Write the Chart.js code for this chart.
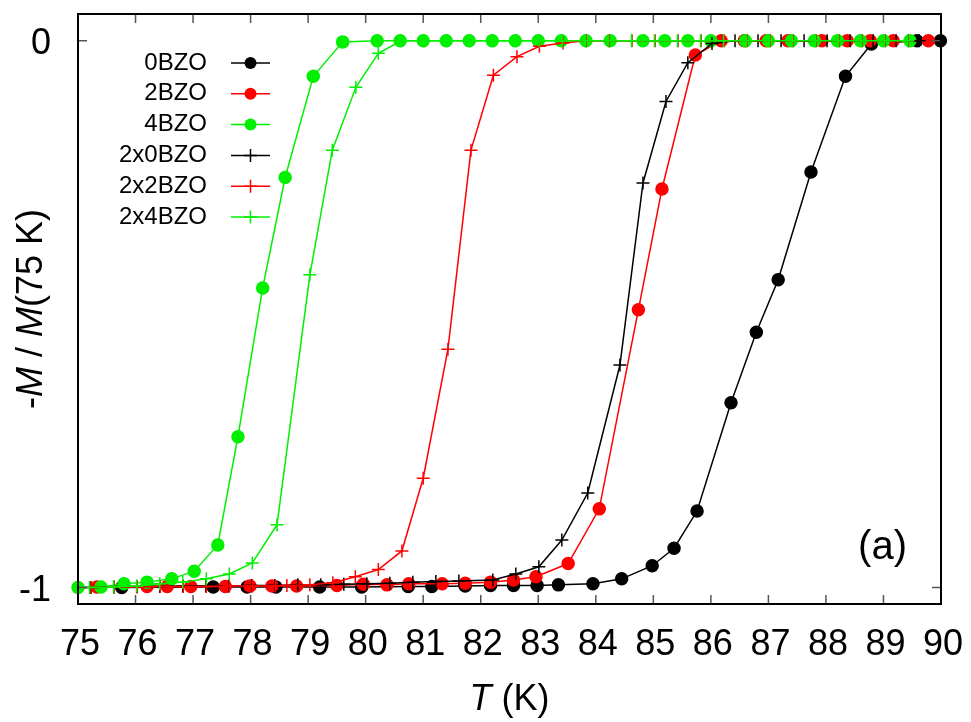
<!DOCTYPE html>
<html>
<head>
<meta charset="utf-8">
<script src="https://cdn.jsdelivr.net/npm/chart.js@4/dist/chart.umd.min.js"></script>
<style>
  html, body { margin: 0; padding: 0; background: #fff; }
</style>
</head>
<body>
<canvas id="myChart" width="971" height="722"></canvas>
<script>
// axis ticks
const xTicks = [75, 76, 77, 78, 79, 80, 81, 82, 83, 84, 85, 86, 87, 88, 89, 90];
const yTicks = [-1, 0];

const seriesNames = ['0BZO', '2BZO', '4BZO', '2x0BZO', '2x2BZO', '2x4BZO'];
const seriesColors = ['#000000', '#ff0000', '#00f000', '#000000', '#ff0000', '#00f000'];
const seriesMarks = ['circle', 'circle', 'circle', 'cross', 'cross', 'cross'];

// temperature (K) and -M/M(75 K) for each sample
const t0BZO = [75.76, 77.35, 77.94, 78.44, 79.20, 79.93, 80.74, 81.15, 81.73, 82.17, 82.57, 82.98, 83.35, 83.95, 84.45, 84.98, 85.36, 85.76, 86.35, 86.79, 87.17, 87.74, 88.34, 88.79, 89.58, 89.99];
const m0BZO = [-1.000, -0.999, -0.999, -0.999, -0.999, -0.999, -0.998, -0.998, -0.997, -0.996, -0.996, -0.996, -0.995, -0.993, -0.984, -0.960, -0.928, -0.860, -0.662, -0.533, -0.437, -0.240, -0.065, -0.006, 0, 0];

const t2BZO = [75.33, 76.20, 76.55, 76.96, 77.56, 77.99, 78.37, 78.80, 79.50, 79.96, 80.37, 80.75, 81.33, 81.73, 82.17, 82.57, 82.96, 83.52, 84.06, 84.74, 85.15, 85.73, 86.18, 86.58, 86.96, 87.34, 87.93, 88.37, 88.77, 89.17, 89.78];
const m2BZO = [-0.999, -0.998, -0.998, -0.998, -0.998, -0.997, -0.997, -0.997, -0.996, -0.994, -0.995, -0.993, -0.993, -0.992, -0.990, -0.986, -0.980, -0.956, -0.856, -0.492, -0.271, -0.026, 0, 0, 0, 0, 0, 0, 0, 0, 0];

const t4BZO = [75.00, 75.40, 75.80, 76.20, 76.63, 77.02, 77.43, 77.78, 78.21, 78.60, 79.09, 79.60, 80.20, 80.60, 81.00, 81.40, 81.80, 82.20, 82.60, 83.00, 83.40, 83.83, 84.25, 84.82, 85.20, 85.60, 86.00, 86.60, 87.00, 87.40, 87.80, 88.20, 88.60, 89.00, 89.46];
const m4BZO = [-1.000, -0.999, -0.993, -0.990, -0.984, -0.970, -0.922, -0.724, -0.452, -0.250, -0.065, -0.002, 0, 0, 0, 0, 0, 0, 0, 0, 0, 0, 0, 0, 0, 0, 0, 0, 0, 0, 0, 0, 0, 0, 0];

const t2x0BZO = [75.22, 75.62, 76.02, 76.42, 76.82, 77.22, 77.62, 78.02, 78.42, 78.82, 79.22, 79.62, 80.02, 80.42, 80.82, 81.22, 81.62, 82.21, 82.61, 83.01, 83.41, 83.86, 84.42, 84.82, 85.22, 85.60, 86.02, 86.42, 86.82, 87.22, 87.62, 88.02, 88.42, 88.82, 89.22, 89.62];
const m2x0BZO = [-1.000, -0.999, -0.998, -0.998, -0.997, -0.997, -0.997, -0.996, -0.996, -0.995, -0.995, -0.994, -0.993, -0.992, -0.990, -0.989, -0.988, -0.986, -0.975, -0.962, -0.913, -0.827, -0.593, -0.260, -0.111, -0.040, -0.005, 0, 0, 0, 0, 0, 0, 0, 0, 0];

const t2x2BZO = [75.23, 75.63, 76.03, 76.43, 76.83, 77.23, 77.63, 78.03, 78.43, 78.63, 79.03, 79.43, 79.82, 80.22, 80.63, 81.00, 81.43, 81.83, 82.22, 82.63, 83.02, 83.43, 83.83, 84.23, 84.63, 85.03, 85.43, 85.83, 86.23, 86.63, 87.03, 87.43, 87.83, 88.23, 88.63, 89.03, 89.43];
const m2x2BZO = [-1.000, -0.999, -0.999, -0.998, -0.998, -0.998, -0.997, -0.997, -0.997, -0.996, -0.995, -0.991, -0.980, -0.967, -0.933, -0.800, -0.564, -0.200, -0.063, -0.029, -0.010, -0.004, 0, 0, 0, 0, 0, 0, 0, 0, 0, 0, 0, 0, 0, 0, 0];

const t2x4BZO = [75.20, 75.62, 76.02, 76.42, 76.82, 77.23, 77.63, 78.03, 78.46, 79.03, 79.42, 79.83, 80.22, 80.62, 81.02, 81.42, 81.82, 82.22, 82.62, 83.02, 83.42, 83.82, 84.22, 84.62, 85.02, 85.42, 85.82, 86.22, 86.62, 87.02, 87.42, 87.82, 88.22, 88.62, 89.02, 89.42];
const m2x4BZO = [-1.000, -0.999, -0.997, -0.993, -0.990, -0.984, -0.975, -0.955, -0.885, -0.428, -0.200, -0.085, -0.023, 0, 0, 0, 0, 0, 0, 0, 0, 0, 0, 0, 0, 0, 0, 0, 0, 0, 0, 0, 0, 0, 0, 0];

const temps = [t0BZO, t2BZO, t4BZO, t2x0BZO, t2x2BZO, t2x4BZO];
const mags = [m0BZO, m2BZO, m4BZO, m2x0BZO, m2x2BZO, m2x4BZO];

const FONT = '"Liberation Sans", Arial, Helvetica, sans-serif';

const datasets = seriesNames.map((name, i) => ({
  label: name,
  data: temps[i].map((t, k) => ({ x: t, y: mags[i][k] })),
  showLine: true,
  borderColor: seriesColors[i],
  backgroundColor: seriesColors[i],
  borderWidth: 1.5,
  pointStyle: seriesMarks[i],
  pointRadius: seriesMarks[i] == 'circle' ? 6 : 6.5,
  pointBorderWidth: 1.5,
  pointHoverRadius: 6,
  clip: false,
  order: seriesNames.length - i   // later series drawn on top
}));

// text with italic pieces, centred on (x, y)
function drawRich(ctx, parts, x, y, size) {
  let total = 0;
  parts.forEach(p => {
    ctx.font = (p[1] ? 'italic ' : '') + size + 'px ' + FONT;
    total += ctx.measureText(p[0]).width;
  });
  let cx = x - total / 2;
  ctx.textAlign = 'left';
  ctx.textBaseline = 'middle';
  parts.forEach(p => {
    ctx.font = (p[1] ? 'italic ' : '') + size + 'px ' + FONT;
    ctx.fillText(p[0], cx, y);
    cx += ctx.measureText(p[0]).width;
  });
}

function drawMark(ctx, style, x, y, color) {
  ctx.strokeStyle = color;
  ctx.fillStyle = color;
  ctx.lineWidth = 1.5;
  if (style == 'circle') {
    ctx.beginPath();
    ctx.arc(x, y, 6, 0, Math.PI * 2);
    ctx.fill();
  } else {
    ctx.beginPath();
    ctx.moveTo(x - 6.5, y); ctx.lineTo(x + 6.5, y);
    ctx.moveTo(x, y - 6.5); ctx.lineTo(x, y + 6.5);
    ctx.stroke();
  }
}

const framePlugin = {
  id: 'frame',
  afterDraw(chart) {
    const ctx = chart.ctx;
    const a = chart.chartArea;
    const xs = chart.scales.x, ys = chart.scales.y;
    ctx.save();

    // inward tick marks on all four sides
    ctx.strokeStyle = '#555';
    ctx.lineWidth = 1.5;
    ctx.beginPath();
    xTicks.forEach(v => {
      const px = xs.getPixelForValue(v);
      ctx.moveTo(px, a.bottom); ctx.lineTo(px, a.bottom - 9);
      ctx.moveTo(px, a.top); ctx.lineTo(px, a.top + 9);
    });
    yTicks.forEach(v => {
      const py = ys.getPixelForValue(v);
      ctx.moveTo(a.left, py); ctx.lineTo(a.left + 9, py);
      ctx.moveTo(a.right, py); ctx.lineTo(a.right - 9, py);
    });
    ctx.stroke();

    ctx.strokeStyle = '#000';
    ctx.lineWidth = 2;
    ctx.strokeRect(a.left, a.top, a.right - a.left, a.bottom - a.top);

    // tick labels
    ctx.fillStyle = '#000';
    ctx.font = '36px ' + FONT;
    ctx.textBaseline = 'alphabetic';
    ctx.textAlign = 'center';
    xTicks.forEach(v => {
      ctx.fillText(String(v), xs.getPixelForValue(v) + 2, 655);
    });
    ctx.textAlign = 'right';
    yTicks.forEach(v => {
      ctx.fillText(String(v), a.left - 27, ys.getPixelForValue(v) + 13);
    });

    // axis titles
    drawRich(ctx, [['T', true], [' (K)', false]], (a.left + a.right) / 2, 700, 36);
    ctx.save();
    ctx.translate(32, (a.top + a.bottom) / 2);
    ctx.rotate(-Math.PI / 2);
    drawRich(ctx, [['-', false], ['M', true], [' / ', false], ['M', true], ['(75 K)', false]], 0, 0, 36);
    ctx.restore();

    // key
    chart.data.datasets.forEach((ds, i) => {
      const y = 63 + i * 30.8;
      ctx.font = '24px ' + FONT;
      ctx.fillStyle = '#000';
      ctx.textAlign = 'right';
      ctx.textBaseline = 'middle';
      ctx.fillText(ds.label, 207, y);
      ctx.strokeStyle = ds.borderColor;
      ctx.lineWidth = 1.5;
      ctx.beginPath();
      ctx.moveTo(231, y); ctx.lineTo(270, y);
      ctx.stroke();
      drawMark(ctx, ds.pointStyle, 250.5, y, ds.borderColor);
    });

    // panel label
    ctx.font = '40px ' + FONT;
    ctx.fillStyle = '#000';
    ctx.textAlign = 'right';
    ctx.textBaseline = 'middle';
    ctx.fillText('(a)', 907, 548);
    ctx.restore();
  }
};

new Chart(document.getElementById('myChart'), {
  type: 'scatter',
  data: { datasets: datasets },
  options: {
    responsive: false,
    devicePixelRatio: 1,
    animation: false,
    events: [],
    layout: { autoPadding: false, padding: { top: 14, right: 30, left: 0, bottom: 0 } },
    plugins: { legend: { display: false }, tooltip: { enabled: false } },
    scales: {
      x: {
        type: 'linear',
        min: 75,
        max: 90,
        afterBuildTicks: s => { s.ticks = xTicks.map(v => ({ value: v })); },
        afterFit: s => { s.height = 118; },
        grid: { display: false, drawTicks: false },
        border: { display: false },
        ticks: { display: false }
      },
      y: {
        type: 'linear',
        min: -1.03,
        max: 0.049,
        afterBuildTicks: s => { s.ticks = yTicks.map(v => ({ value: v })); },
        afterFit: s => { s.width = 78; },
        grid: { display: false, drawTicks: false },
        border: { display: false },
        ticks: { display: false }
      }
    }
  },
  plugins: [framePlugin]
});
</script>
</body>
</html>
